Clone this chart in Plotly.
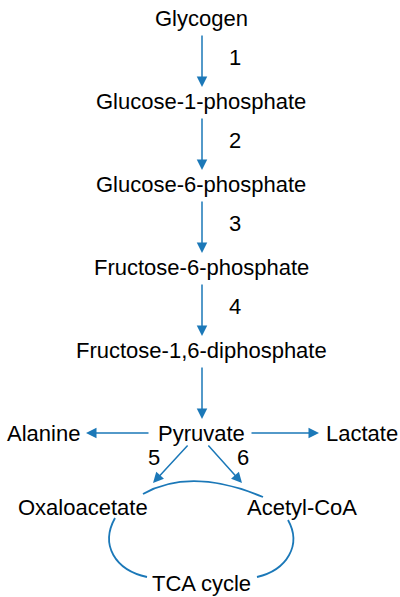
import plotly.graph_objects as go

# ---- data ----
main_steps = ["Glycogen", "Glucose-1-phosphate", "Glucose-6-phosphate",
              "Fructose-6-phosphate", "Fructose-1,6-diphosphate", "Pyruvate"]
step_numbers = ["1", "2", "3", "4", ""]
side_products = ["Alanine", "Lactate"]
tca_entries = ["Oxaloacetate", "Acetyl-CoA"]
tca_entry_numbers = ["5", "6"]
cycle_label = "TCA cycle"

# ---- layout constants ----
W, H = 400, 597
BLUE = "#1b78b8"
FONT = dict(family="Liberation Sans, Arial, Helvetica, sans-serif", size=22, color="#000000")
TX = 201
AX = 202
ys = [18, 101, 184, 267, 350, 433]

fig = go.Figure()
ann = []

def text(x, y, t):
    ann.append(dict(x=x, y=y, text=t, showarrow=False, font=FONT,
                    xref="x", yref="y", xanchor="center", yanchor="middle"))

def arrow(x0, y0, x1, y1):
    ann.append(dict(x=x1, y=y1, ax=x0, ay=y0, xref="x", yref="y",
                    axref="x", ayref="y", text="", showarrow=True,
                    arrowhead=2, arrowsize=1.4, arrowwidth=1.5,
                    arrowcolor=BLUE, standoff=0, startstandoff=0))

for i, name in enumerate(main_steps):
    text(TX, ys[i], name)
for i, num in enumerate(step_numbers):
    y0, y1 = ys[i] + 16, ys[i + 1] - 14
    arrow(AX, y0, AX, y1)
    if num:
        text(235, (ys[i] + ys[i + 1]) / 2 - 2, num)

# side products
text(43, 433, side_products[0])
text(362, 433, side_products[1])
arrow(150, 433, 86, 433)
arrow(250, 433, 319, 433)

# TCA entries
text(83, 507, tca_entries[0])
text(302, 507, tca_entries[1])
arrow(189, 444, 153, 483)
arrow(207, 444, 242, 483)
text(154, 457, tca_entry_numbers[0])
text(243, 457, tca_entry_numbers[1])

text(201, 583, cycle_label)

shapes = [
    dict(type="path", path="M 143,494 Q 191,467 263,497",
         line=dict(color=BLUE, width=1.8), xref="x", yref="y"),
    dict(type="path", path="M 115,518 C 100,545 115,570 147,577",
         line=dict(color=BLUE, width=1.8), xref="x", yref="y"),
    dict(type="path", path="M 288,520 C 302,545 287,570 257,577",
         line=dict(color=BLUE, width=1.8), xref="x", yref="y"),
]

fig.update_layout(
    width=W, height=H, margin=dict(l=0, r=0, t=0, b=0),
    paper_bgcolor="white", plot_bgcolor="white",
    xaxis=dict(range=[0, W], visible=False, fixedrange=True),
    yaxis=dict(range=[H, 0], visible=False, fixedrange=True),
    annotations=ann, shapes=shapes, showlegend=False,
)
fig.write_html("out.html", config={"displayModeBar": False})

# remove default browser page margin so the figure fills the window exactly
with open("out.html", encoding="utf-8") as f:
    html = f.read()
html = html.replace("<head>", "<head><style>html,body{margin:0;padding:0;overflow:hidden;}</style>", 1)
with open("out.html", "w", encoding="utf-8") as f:
    f.write(html)
